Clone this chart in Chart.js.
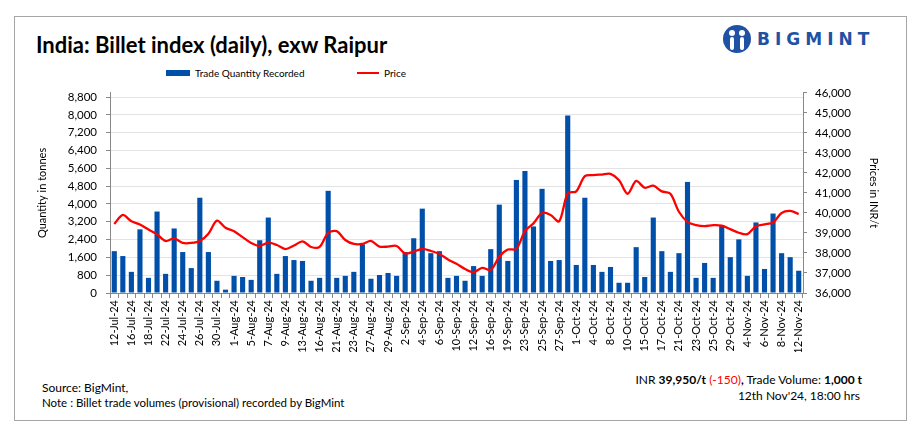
<!DOCTYPE html>
<html>
<head>
<meta charset="utf-8">
<script src="https://cdn.jsdelivr.net/npm/chart.js@4"></script>
<style>
  body { margin: 0; background: #fff; width: 919px; height: 444px; position: relative; overflow: hidden;
         font-family: Lato, "Open Sans", sans-serif; color: #000; }
  .frame { position: absolute; left: 14px; top: 16px; width: 891px; height: 403px; border: 1px solid #a6a6a6; }
  .title { position: absolute; left: 36px; top: 31px; font-size: 22px; font-weight: bold; }
  .logo { position: absolute; left: 722px; top: 24px; display: flex; align-items: center; color: #1f52a3; }
  .logo span { font-family: "DejaVu Sans", sans-serif; font-weight: bold; font-size: 17px; letter-spacing: 5px; margin-left: 5px; }
  .legend { position: absolute; top: 67px; font-size: 10px; display: flex; align-items: center; }
  .foot { position: absolute; font-size: 12px; }
</style>
</head>
<body>
<div class="frame"></div>
<div class="title">India: Billet index (daily), exw Raipur</div>
<div class="logo">
  <svg width="30" height="30" viewBox="0 0 30 30">
    <circle cx="15" cy="15" r="14" fill="#1f52a3"/>
    <circle cx="10" cy="9" r="3" fill="#fff"/>
    <circle cx="20" cy="9" r="3" fill="#fff"/>
    <rect x="8" y="13" width="4" height="13" rx="2" fill="#fff"/>
    <rect x="18" y="13" width="4" height="13" rx="2" fill="#fff"/>
  </svg>
  <span>BIGMINT</span>
</div>
<div class="legend" style="left:166px"><span style="display:inline-block;width:24px;height:6px;background:#0050aa;margin-right:5px"></span>Trade Quantity Recorded</div>
<div class="legend" style="left:357px"><span style="display:inline-block;width:22px;height:2px;background:#ff0000;margin-right:5px"></span>Price</div>

<div style="position:absolute;left:36px;top:77px;width:844px;height:275px">
  <canvas id="chart"></canvas>
</div>

<div class="foot" style="left:42px;top:380px">Source: BigMint,</div>
<div class="foot" style="left:42px;top:396px;font-size:11.5px">Note : Billet trade volumes (provisional) recorded by BigMint</div>
<div class="foot" style="right:57px;top:372px">INR <b>39,950/t</b> <span style="color:#ff0000">(-150)</span><b>,</b> Trade Volume: <b>1,000 t</b></div>
<div class="foot" style="right:59px;top:388px">12th Nov'24, 18:00 hrs</div>

<script>
const dates = ['12-Jul-24','15-Jul-24','16-Jul-24','17-Jul-24','18-Jul-24','19-Jul-24','22-Jul-24','23-Jul-24','24-Jul-24','25-Jul-24',
  '26-Jul-24','29-Jul-24','30-Jul-24','31-Jul-24','1-Aug-24','2-Aug-24','5-Aug-24','6-Aug-24','7-Aug-24','8-Aug-24',
  '9-Aug-24','12-Aug-24','13-Aug-24','14-Aug-24','16-Aug-24','20-Aug-24','21-Aug-24','22-Aug-24','23-Aug-24','26-Aug-24',
  '27-Aug-24','28-Aug-24','29-Aug-24','30-Aug-24','2-Sep-24','3-Sep-24','4-Sep-24','5-Sep-24','6-Sep-24','9-Sep-24',
  '10-Sep-24','11-Sep-24','12-Sep-24','13-Sep-24','16-Sep-24','18-Sep-24','19-Sep-24','20-Sep-24','23-Sep-24','24-Sep-24',
  '25-Sep-24','26-Sep-24','27-Sep-24','30-Sep-24','1-Oct-24','3-Oct-24','4-Oct-24','7-Oct-24','8-Oct-24','9-Oct-24',
  '10-Oct-24','14-Oct-24','15-Oct-24','16-Oct-24','17-Oct-24','18-Oct-24','21-Oct-24','22-Oct-24','23-Oct-24','24-Oct-24',
  '25-Oct-24','28-Oct-24','29-Oct-24','30-Oct-24','4-Nov-24','5-Nov-24','6-Nov-24','7-Nov-24','8-Nov-24','11-Nov-24',
  '12-Nov-24'];

const quantity = [1880,1660,950,2860,680,3660,860,2900,1840,1120,
  4280,1840,550,150,770,720,590,2370,3390,860,
  1660,1480,1440,550,680,4590,680,770,950,2190,
  640,810,900,770,1840,2460,3790,1790,1880,680,
  770,550,1210,770,1970,3970,1440,5080,5480,2990,
  4680,1440,1480,7970,1260,4280,1260,950,1170,460,
  460,2060,720,3390,1880,950,1790,4990,680,1350,
  680,3040,1610,2410,770,3170,1080,3570,1790,1610,
  1000];

const price = [39450,39900,39580,39420,39170,38930,38600,38730,38500,38500,
  38600,38960,39620,39260,39090,38790,38500,38350,38520,38400,
  38190,38370,38580,38300,38300,39010,39090,38650,38450,38450,
  38600,38320,38320,38350,37970,38070,38200,38100,37950,37680,
  37460,37200,37040,37260,37150,37810,38170,38200,39090,39480,
  40000,39900,39580,40980,41080,41840,41890,41920,41950,41630,
  40960,41600,41260,41360,41080,40960,40060,39550,39390,39340,
  39390,39370,39190,39010,38940,39340,39430,39520,40000,40100,
  39950];

// left axis tick values (axis itself runs a little above 8,800)
const qtyTicks = [0, 800, 1600, 2400, 3200, 4000, 4800, 5600, 6400, 7200, 8000, 8800];

const fontFam = 'Lato, "Open Sans", sans-serif';
const fmt = v => v.toLocaleString('en-US');

const ctx = document.getElementById('chart').getContext('2d');
new Chart(ctx, {
  data: {
    labels: dates,
    datasets: [
      {
        type: 'line',
        label: 'Price',
        data: price,
        yAxisID: 'y1',
        borderColor: '#ff0000',
        borderWidth: 2.3,
        pointRadius: 0,
        tension: 0.3,
        fill: false
      },
      {
        type: 'bar',
        label: 'Trade Quantity Recorded',
        data: quantity,
        yAxisID: 'y',
        backgroundColor: '#0050aa',
        barPercentage: 0.6,
        categoryPercentage: 1
      }
    ]
  },
  options: {
    responsive: true,
    maintainAspectRatio: false,
    animation: false,
    layout: { padding: 0 },
    plugins: { legend: { display: false }, tooltip: { enabled: false } },
    scales: {
      x: {
        grid: { display: true, drawOnChartArea: false, tickLength: 5, color: '#888' },
        border: { color: '#888' },
        ticks: {
          autoSkip: false, minRotation: 90, maxRotation: 90, padding: 2,
          color: '#000', font: { family: fontFam, size: 11 },
          callback: (v, i) => i % 2 === 0 ? dates[i] : ''
        },
        afterFit: s => { s.height = 59; }
      },
      y: {
        position: 'left',
        min: 0, max: 8990,
        afterBuildTicks: s => { s.ticks = qtyTicks.map(v => ({ value: v })); },
        grid: { color: '#e3e3e3', tickColor: '#888', tickLength: 4 },
        border: { color: '#888' },
        ticks: { autoSkip: false, padding: 9, color: '#000', font: { family: fontFam, size: 11.5 }, callback: v => fmt(v) },
        title: { display: true, text: 'Quantity in tonnes', color: '#000', font: { family: fontFam, size: 11 }, padding: 0 },
        afterFit: s => { s.width = 74; }
      },
      y1: {
        position: 'right',
        min: 36000, max: 46000,
        grid: { drawOnChartArea: false, tickColor: '#888', tickLength: 4 },
        border: { color: '#888' },
        ticks: { stepSize: 1000, padding: 8, color: '#000', font: { family: fontFam, size: 11.5 }, callback: v => fmt(v) },
        title: { display: true, text: 'Prices in INR/t', color: '#000', font: { family: fontFam, size: 11 }, padding: 0 },
        afterFit: s => { s.width = 77; }
      }
    }
  }
});
</script>
</body>
</html>
